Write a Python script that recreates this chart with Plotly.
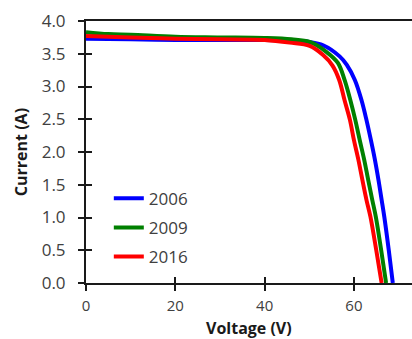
import plotly.graph_objects as go

years = ["2006", "2009", "2016"]
colors = ["#0000FF", "#008000", "#FF0000"]

v_2006 = [0, 10, 20, 30, 40, 46, 50, 53.1, 56.8, 58.4, 60.2, 61.7, 62.8, 63.8, 64.7, 65.5, 66.2, 66.8, 67.8, 68.7]
i_2006 = [3.73, 3.72, 3.71, 3.71, 3.71, 3.70, 3.68, 3.63, 3.46, 3.33, 3.10, 2.79, 2.49, 2.18, 1.88, 1.57, 1.27, 1.01, 0.50, 0]

v_2009 = [0, 5, 10, 20, 30, 40, 46, 50.1, 53.8, 56.4, 57.9, 59.2, 60.3, 61.3, 62.3, 63.2, 64.1, 64.9, 66.1, 67.2]
i_2009 = [3.83, 3.80, 3.79, 3.76, 3.75, 3.74, 3.72, 3.68, 3.53, 3.36, 3.10, 2.79, 2.49, 2.18, 1.88, 1.57, 1.27, 1.01, 0.50, 0]

v_2016 = [0, 5, 10, 20, 30, 40, 45.6, 50.1, 53.1, 55.2, 56.7, 57.9, 59.1, 60.0, 61.0, 61.9, 62.8, 63.7, 65.0, 66.2]
i_2016 = [3.77, 3.76, 3.75, 3.73, 3.72, 3.71, 3.67, 3.62, 3.48, 3.32, 3.10, 2.79, 2.49, 2.18, 1.88, 1.57, 1.27, 1.01, 0.50, 0]

x_ticks = [0, 20, 40, 60]
y_ticks = [0.0, 0.5, 1.0, 1.5, 2.0, 2.5, 3.0, 3.5, 4.0]
x_title = "Voltage (V)"
y_title = "Current (A)"

series = [(v_2006, i_2006), (v_2009, i_2009), (v_2016, i_2016)]

fig = go.Figure()
for (v, i), name, c in zip(series, years, colors):
    fig.add_trace(go.Scatter(x=v, y=i, mode="lines", name=name, legendgroup=name,
                             line=dict(color=c, width=4, shape="spline", smoothing=1.0)))

font = "Open Sans, sans-serif"
txt = "#404040"
axc = "#1a1a1a"
fig.update_layout(
    width=412, height=339,
    margin=dict(l=86, r=0, t=21, b=56),
    plot_bgcolor="white", paper_bgcolor="white",
    font=dict(family=font, size=16, color=txt),
    showlegend=True,
    legend=dict(x=0.07, y=0.39, xanchor="left", yanchor="top",
                bgcolor="rgba(0,0,0,0)", font=dict(size=17, color=txt),
                tracegroupgap=4, itemwidth=30),
    xaxis=dict(range=[0, 73], tickvals=x_ticks, ticktext=[str(t) for t in x_ticks],
               showgrid=False, zeroline=False, showline=True, linecolor=axc,
               linewidth=2, ticks="outside", ticklen=6, tickwidth=2, tickcolor=axc,
               mirror=True, ticklabelstandoff=2, automargin=False,
               tickfont=dict(size=15, color=txt)),
    yaxis=dict(range=[0, 4.0], tickvals=y_ticks, ticktext=[f"{t:.1f}" for t in y_ticks],
               showgrid=False, zeroline=False, showline=True, linecolor=axc,
               linewidth=2, ticks="outside", ticklen=6, tickwidth=2, tickcolor=axc,
               ticklabelstandoff=9, automargin=False,
               tickfont=dict(size=17, color=txt)),
    xaxis2=dict(range=[0, 73], tickvals=x_ticks, overlaying="x", side="bottom",
                showticklabels=False, showgrid=False, zeroline=False, showline=False,
                ticks="inside", ticklen=6, tickwidth=2, tickcolor=axc),
    yaxis2=dict(range=[0, 4.0], tickvals=y_ticks, overlaying="y", side="left",
                showticklabels=False, showgrid=False, zeroline=False, showline=False,
                ticks="inside", ticklen=6, tickwidth=2, tickcolor=axc),
    annotations=[
        dict(text=f"<b>{x_title}</b>", xref="paper", yref="paper", x=0.5, y=-0.172,
             xanchor="center", yanchor="middle", showarrow=False,
             font=dict(size=16, color=axc, family=font)),
        dict(text=f"<b>{y_title}</b>", xref="paper", yref="paper", x=-0.199, y=0.5,
             xanchor="center", yanchor="middle", showarrow=False, textangle=-90,
             font=dict(size=16, color=axc, family=font)),
    ],
)
# invisible trace to activate secondary axes for the crossing tick marks
fig.add_trace(go.Scatter(x=[0], y=[0], xaxis="x2", yaxis="y2", mode="markers",
                         marker=dict(opacity=0), showlegend=False, hoverinfo="skip"))
fig.write_html("out.html")
